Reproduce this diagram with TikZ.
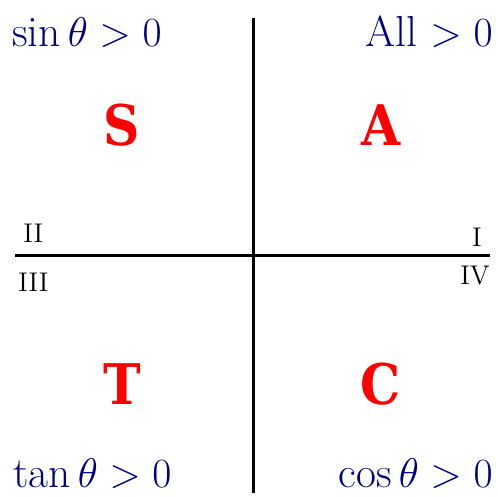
\documentclass[tikz,border=0pt]{standalone}
\usepackage{amsmath,amssymb}
\usepackage{fontspec}
\newfontfamily\quadfont{DejaVu Serif Condensed}
\usetikzlibrary{positioning}

\begin{document}
\begin{tikzpicture}[
  x=0.5pt, y=-0.5pt,
  % --- labels ---
  sign/.style={font=\fontsize{21.7}{26}\selectfont, text=blue!50!black, inner sep=0pt},
  quad/.style={font=\fontsize{28}{32}\selectfont\quadfont\bfseries, text=red, inner sep=0pt},
  num/.style={font=\fontsize{13.5}{16}\selectfont, inner sep=0pt},
  % --- axes ---
  axis/.style={line width=1.5pt, draw=black},
]
\useasboundingbox (0,0) rectangle (498,497);

% ===================== AXES =====================

\coordinate (top) at (253,18);
\coordinate (bot) at (253,493);
\coordinate (lft) at (15,256);
\coordinate (rgt) at (490,256);

\draw[axis] (top) -- (bot);
\draw[axis] (lft) -- (rgt);

% ===================== SIGN RULES =====================

\node[sign, anchor=base west] (sinpos) at (12,47) {$\sin\theta > 0$};
\node[sign, anchor=base east] (allpos) at (493,47) {All $> 0$};
\node[sign, anchor=base west] (tanpos) at (13,487) {$\tan\theta > 0$};
\node[sign, anchor=base east] (cospos) at (493,487) {$\cos\theta > 0$};

% ===================== QUADRANT LETTERS =====================

\node[quad] (qS) at (122,125) {S};
\node[quad] (qA) at (381,125) {A};
\node[quad] (qT) at (122,384) {T};
\node[quad] (qC) at (381,384) {C};

% ===================== NUMERALS =====================

\node[num, anchor=base west] (nII) at (23,243) {II};
\node[num, anchor=base west] (nIII) at (18,292) {III};
\node[num, anchor=base east] (nI) at (482,247) {I};
\node[num, anchor=base east] (nIV) at (490,285) {IV};

\end{tikzpicture}
\end{document}
